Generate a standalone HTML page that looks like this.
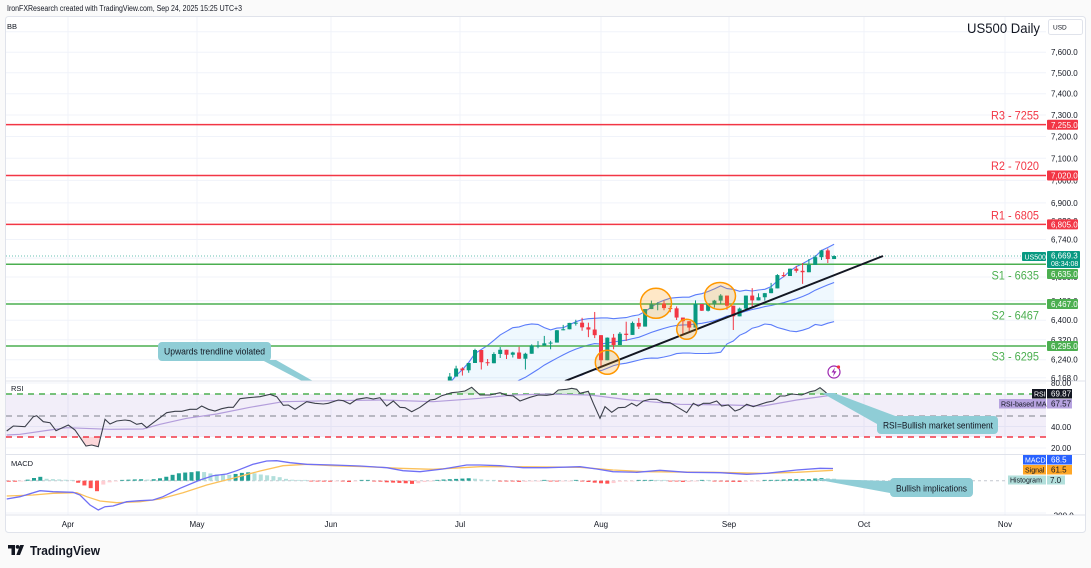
<!DOCTYPE html>
<html><head><meta charset="utf-8">
<style>
html,body{margin:0;padding:0;background:#fafafa;}
svg{display:block;}
text{font-family:"Liberation Sans",sans-serif;}
</style></head>
<body>
<svg id="s" width="1091" height="568" viewBox="0 0 1091 568" xmlns="http://www.w3.org/2000/svg">
<defs>
 <clipPath id="cm"><rect x="6" y="17" width="1040" height="364"/></clipPath>
 <clipPath id="cma"><rect x="1046" y="17" width="40" height="364"/></clipPath>
 <clipPath id="cr"><rect x="6" y="381" width="1040" height="73"/></clipPath>
 <clipPath id="cob"><rect x="6" y="381" width="1040" height="13"/></clipPath>
 <clipPath id="cos"><rect x="6" y="437" width="1040" height="17"/></clipPath>
 <clipPath id="cd"><rect x="6" y="455" width="1040" height="60"/></clipPath>
 <clipPath id="cda"><rect x="1046" y="455" width="40" height="60"/></clipPath>
</defs>

<rect x="0" y="0" width="1091" height="568" fill="#fafafa"/>
<text x="7" y="11" font-size="8" fill="#131722" textLength="235" lengthAdjust="spacingAndGlyphs">IronFXResearch created with TradingView.com, Sep 24, 2025 15:25 UTC+3</text>

<rect x="5.5" y="16.5" width="1080" height="516" rx="3" fill="#ffffff" stroke="#e0e3eb"/>

<!-- vertical grid -->
<g stroke="#f0f3fa" stroke-width="1">
 <line x1="68" y1="17" x2="68" y2="515"/><line x1="197" y1="17" x2="197" y2="515"/>
 <line x1="331" y1="17" x2="331" y2="515"/><line x1="460" y1="17" x2="460" y2="515"/>
 <line x1="601" y1="17" x2="601" y2="515"/><line x1="729" y1="17" x2="729" y2="515"/>
 <line x1="864" y1="17" x2="864" y2="515"/><line x1="1005" y1="17" x2="1005" y2="515"/>
</g>
<!-- horizontal grid main -->
<g stroke="#f0f3fa" stroke-width="1">
 <line x1="6" x2="1046" y1="31.8" y2="31.8"/><line x1="6" x2="1046" y1="52.2" y2="52.2"/>
 <line x1="6" x2="1046" y1="72.8" y2="72.8"/><line x1="6" x2="1046" y1="93.7" y2="93.7"/>
 <line x1="6" x2="1046" y1="115" y2="115"/><line x1="6" x2="1046" y1="136.5" y2="136.5"/>
 <line x1="6" x2="1046" y1="158.3" y2="158.3"/><line x1="6" x2="1046" y1="180.4" y2="180.4"/>
 <line x1="6" x2="1046" y1="202.9" y2="202.9"/><line x1="6" x2="1046" y1="221.1" y2="221.1"/>
 <line x1="6" x2="1046" y1="239.5" y2="239.5"/><line x1="6" x2="1046" y1="258.1" y2="258.1"/>
 <line x1="6" x2="1046" y1="277" y2="277"/><line x1="6" x2="1046" y1="300.8" y2="300.8"/>
 <line x1="6" x2="1046" y1="320.2" y2="320.2"/><line x1="6" x2="1046" y1="339.8" y2="339.8"/>
 <line x1="6" x2="1046" y1="359.7" y2="359.7"/><line x1="6" x2="1046" y1="377.8" y2="377.8"/>
 <line x1="6" x2="1046" y1="383" y2="383"/><line x1="6" x2="1046" y1="426.5" y2="426.5"/>
 <line x1="6" x2="1046" y1="448" y2="448"/><line x1="6" x2="1046" y1="513" y2="513"/>
</g>

<text x="7" y="29" font-size="7.5" fill="#131722">BB</text>

<!-- MAIN PANE -->
<g clip-path="url(#cm)">
 <g id="bb"></g>
 <line x1="6" x2="1046" y1="124.6" y2="124.6" stroke="#f23645" stroke-width="1.5"/>
 <line x1="6" x2="1046" y1="175.5" y2="175.5" stroke="#f23645" stroke-width="1.5"/>
 <line x1="6" x2="1046" y1="224.4" y2="224.4" stroke="#f23645" stroke-width="1.5"/>
 <line x1="6" x2="1046" y1="264.3" y2="264.3" stroke="#4caf50" stroke-width="1.5"/>
 <line x1="6" x2="1046" y1="304" y2="304" stroke="#4caf50" stroke-width="1.5"/>
 <line x1="6" x2="1046" y1="346" y2="346" stroke="#4caf50" stroke-width="1.5"/>
 <line x1="6" x2="1022" y1="256" y2="256" stroke="#089981" stroke-width="1" stroke-dasharray="1,2" opacity="0.6"/>
 <g id="candles"></g>
 <line x1="565" y1="381" x2="883" y2="256" stroke="#131722" stroke-width="2"/>
 <g stroke="#ff9800" stroke-width="1.5" fill="rgba(255,152,0,0.22)">
  <ellipse cx="607.3" cy="362.3" rx="12" ry="12"/>
  <ellipse cx="656" cy="303.3" rx="15.5" ry="15"/>
  <ellipse cx="686.7" cy="329.3" rx="10" ry="10"/>
  <ellipse cx="720" cy="296" rx="15.5" ry="13.5"/>
 </g>
 <circle cx="834" cy="372" r="6" fill="#fff" stroke="#9c27b0" stroke-width="1.2"/>
 <polygon points="835,367.5 831.5,372.5 834,372.5 833,376.5 836.5,371.3 834,371.3" fill="#9c27b0"/>
 <circle cx="838.5" cy="367" r="1.6" fill="#f23645"/>
 <!-- callout 1 -->
 <polygon points="262,360 276,360 313,381 302,381" fill="#8fcdd6"/>
 <rect x="158" y="342" width="113" height="19" rx="4" fill="#8fcdd6"/>
 <text x="164" y="354.5" font-size="9" fill="#131722" textLength="101" lengthAdjust="spacingAndGlyphs">Upwards trendline violated</text>
</g>

<!-- level texts -->
<g font-size="12" fill="#f23645">
 <text x="991" y="119.3" textLength="48" lengthAdjust="spacingAndGlyphs">R3 - 7255</text>
 <text x="991" y="170" textLength="48" lengthAdjust="spacingAndGlyphs">R2 - 7020</text>
 <text x="991" y="219.3" textLength="48" lengthAdjust="spacingAndGlyphs">R1 - 6805</text>
</g>
<g font-size="12" fill="#4caf50">
 <text x="991.5" y="279.3" textLength="47.5" lengthAdjust="spacingAndGlyphs">S1 - 6635</text>
 <text x="991.5" y="319.3" textLength="47.5" lengthAdjust="spacingAndGlyphs">S2 - 6467</text>
 <text x="991.5" y="360.7" textLength="47.5" lengthAdjust="spacingAndGlyphs">S3 - 6295</text>
</g>

<text x="967" y="33" font-size="14" fill="#131722" textLength="73" lengthAdjust="spacingAndGlyphs">US500 Daily</text>
<rect x="1048.5" y="19.5" width="34" height="15" rx="2" fill="#fff" stroke="#e0e3eb"/>
<text x="1053" y="29.5" font-size="6.5" fill="#131722">USD</text>

<!-- price axis labels -->
<g clip-path="url(#cma)" font-size="8" fill="#131722">
 <text x="1051" y="55">7,600.0</text><text x="1051" y="75.8">7,500.0</text>
 <text x="1051" y="96.7">7,400.0</text><text x="1051" y="118">7,300.0</text>
 <text x="1051" y="139.5">7,200.0</text><text x="1051" y="161.3">7,100.0</text>
 <text x="1051" y="183.4">7,000.0</text><text x="1051" y="205.9">6,900.0</text>
 <text x="1051" y="224.1">6,820.0</text><text x="1051" y="242.5">6,740.0</text>
 <text x="1051" y="261.1">6,660.0</text><text x="1051" y="280">6,580.0</text>
 <text x="1051" y="303.8">6,480.0</text><text x="1051" y="323.2">6,400.0</text>
 <text x="1051" y="342.8">6,320.0</text><text x="1051" y="362.7">6,240.0</text>
 <text x="1051" y="380.8">6,168.0</text>
</g>
<!-- level boxes -->
<g font-size="8" fill="#fff">
 <rect x="1047" y="119.8" width="31" height="10" rx="1" fill="#f23645"/><text x="1051" y="127.8">7,255.0</text>
 <rect x="1047" y="170.5" width="31" height="10" rx="1" fill="#f23645"/><text x="1051" y="178.5">7,020.0</text>
 <rect x="1047" y="219.4" width="31" height="10" rx="1" fill="#f23645"/><text x="1051" y="227.4">6,805.0</text>
 <rect x="1022" y="252" width="24" height="9" rx="1" fill="#089981"/><text x="1024.5" y="259.3" font-size="7">US500</text>
 <rect x="1047" y="251" width="33" height="17" rx="1" fill="#089981"/>
 <text x="1051" y="258.5">6,669.3</text><text x="1051" y="266" font-size="7">08:34:08</text>
 <rect x="1047" y="269" width="31" height="10" rx="1" fill="#4caf50"/><text x="1051" y="277">6,635.0</text>
 <rect x="1047" y="299" width="31" height="10" rx="1" fill="#4caf50"/><text x="1051" y="307">6,467.0</text>
 <rect x="1047" y="341" width="31" height="10" rx="1" fill="#4caf50"/><text x="1051" y="349">6,295.0</text>
</g>

<!-- pane separators -->
<line x1="6" x2="1085" y1="381" y2="381" stroke="#e0e3eb"/>
<line x1="6" x2="1085" y1="454.5" y2="454.5" stroke="#e0e3eb"/>
<line x1="6" x2="1085" y1="515" y2="515" stroke="#e0e3eb"/>

<!-- RSI PANE -->
<g clip-path="url(#cr)">
 <rect x="6" y="394" width="1040" height="43" fill="#7e57c2" opacity="0.1"/>
 <line x1="6" x2="1046" y1="394" y2="394" stroke="#4caf50" stroke-width="1.5" stroke-dasharray="6,5"/>
 <line x1="6" x2="1046" y1="416" y2="416" stroke="#9598a1" stroke-width="1.3" stroke-dasharray="6,5"/>
 <line x1="6" x2="1046" y1="437" y2="437" stroke="#f23645" stroke-width="1.5" stroke-dasharray="6,5"/>
 <g clip-path="url(#cob)"><polygon id="rsiob" fill="#4caf50" opacity="0.2" points=""/></g>
 <g clip-path="url(#cos)"><polygon id="rsios" fill="#f23645" opacity="0.2" points=""/></g>
 <polyline fill="none" stroke="#b39ddb" stroke-width="1.2" points="6.7,435 20,434.3 50,430 66.7,427.7 83,428.3 110,429.3 143,429 160,424.3 186.7,418.3 216.7,414 250,407.3 283,401.7 333,400.7 383,400 433,401.7 466.7,399.3 480,398.3 513,395 546.7,394 590,395 630,400 680,404.3 730,405 763,406 796.7,400 833,395"/>
 <polyline id="rsi" fill="none" stroke="#3b3f4a" stroke-width="1.1" points="6.7,431 13.3,426 25,426.7 33.3,416.7 36.7,415.7 43.3,421.7 50,422.7 56,430.7 68.3,425 75,430 86,446 91.7,445 98.3,446.7 105,419.3 110,424 116.7,421 125,420 130,420.7 136.7,424.3 141.7,423.3 146.7,427.7 153.3,422.7 166.7,412.7 175,411.3 181.7,411.3 190,409.3 196.7,409.3 201.7,406 208.3,409.3 215,411 221.7,408.7 228.3,407.3 233.3,407.3 240,398.7 248.3,397.7 260,396.7 270,394.3 276.7,396.7 283.3,405.3 288.3,405 295,409.3 306.7,401.7 315,403.3 323.3,404 328.3,403.3 338.3,400 343.3,400.7 350,404 356.7,399.3 366.7,397.7 373.3,399 380,397.7 386.7,406 393.3,401 400,407.3 405,407.7 411.7,411.7 420,407.3 430,400 435,399.3 441.7,395.7 451.7,392.7 458.3,392 465,391 471.7,387.3 480,395 490,395 500,392.7 506.7,395.3 513.3,396 520,401 530,397.3 538.3,395 546.7,395.3 553.3,394.3 558.3,390 566.7,389.3 571.7,388.3 576.7,389.3 580,393.3 588.3,391.3 593.3,403.3 600,418.3 605,406.7 611.7,412.3 618.3,407.7 625,407.3 631.7,403.3 636.7,406 643.3,401 650,399.3 656.7,399.3 663.3,402.3 670,402.7 676.7,406.7 686.7,412.7 693.3,403.3 698.3,406 703.3,403.3 710,403.3 716.7,401 721.7,406 728.3,405 735,411 740,409.3 746.7,404.3 753.3,406.7 758.3,405 766.7,402.3 773.3,401 780,396 785,396 791.7,394 801.7,395 810,391.7 815,390.7 820,387.7 825,391.7 828.3,395 833.3,395"/>
 <polygon points="822,393 834,393 898,417 877,424" fill="#8fcdd6"/>
 <rect x="877" y="416" width="121" height="18" rx="4" fill="#8fcdd6"/>
 <text x="883" y="428.5" font-size="9" fill="#131722" textLength="110" lengthAdjust="spacingAndGlyphs">RSI=Bullish market sentiment</text>
</g>
<text x="11" y="391" font-size="7.5" fill="#131722">RSI</text>
<g font-size="8" fill="#131722">
 <text x="1051" y="386">80.00</text><text x="1051" y="430">40.00</text><text x="1051" y="451">20.00</text>
</g>
<g font-size="8">
 <rect x="1032" y="389" width="14" height="9.5" fill="#131722"/><text x="1034" y="396.5" fill="#fff" font-size="7">RSI</text>
 <rect x="1047" y="389" width="25" height="9.5" fill="#131722"/><text x="1051" y="396.7" fill="#fff">69.87</text>
 <rect x="999" y="399" width="47" height="9.5" fill="#b7a3e0"/><text x="1001" y="406.5" fill="#131722" font-size="7">RSI-based MA</text>
 <rect x="1047" y="399" width="25" height="9.5" fill="#b7a3e0"/><text x="1051" y="406.7" fill="#131722">67.57</text>
</g>

<!-- MACD PANE -->
<g clip-path="url(#cd)">
 <line x1="6" x2="1046" y1="480.7" y2="480.7" stroke="#c4c7cf" stroke-width="1" stroke-dasharray="3,3"/>
 <g id="hist"></g>
 <polyline fill="none" stroke="#fbc15a" stroke-width="1.3" points="6.7,496 33,495 53,493.3 76.7,492.7 86.7,496.7 100,501 116.7,502.7 140,501.7 160,499 183,492.7 206.7,485 233,478.3 260,471 283,465.7 306.7,464.3 333,465.7 366.7,466.7 400,468.3 433,469.3 480,466.7 513,466.7 580,467.3 613,470 646.7,471.7 713,472.3 763,473.3 796.7,472.3 833,470.3"/>
 <polyline fill="none" stroke="#6f6ff5" stroke-width="1.3" points="6.7,499 20,496.7 40,490.7 53,491.7 73,492.3 80,495 90,505 98.3,510 105,506.7 113,506 126.7,501.7 140,500.7 153,500 163,496.7 180,488.3 200,480 213,475.7 226.7,474 236.7,470.7 253,464.3 266.7,461 276.7,460.7 290,462.7 306.7,464.3 333,465 360,466 386.7,467.7 403,470.7 420,471.7 443,469 466.7,465 480,465 500,465.7 523,467.7 546.7,467.7 580,466.7 596.7,469 613,471.7 636.7,472.3 660,470.3 686.7,472.3 720,472.7 746.7,474.3 766.7,473.3 796.7,470 820,468.3 833,468.5"/>
 <polygon points="814,479 824,479 890,481 890,493" fill="#8fcdd6"/>
 <rect x="890" y="478" width="83" height="19" rx="4" fill="#8fcdd6"/>
 <text x="896" y="491.5" font-size="9" fill="#131722" textLength="71" lengthAdjust="spacingAndGlyphs">Bullish implications</text>
</g>
<text x="11" y="466" font-size="7.5" fill="#131722">MACD</text>
<g clip-path="url(#cda)"><text x="1051" y="518.5" font-size="8" fill="#131722">-200.0</text></g>
<g font-size="8">
 <rect x="1023" y="455" width="23" height="9.5" fill="#2962ff"/><text x="1025" y="462.5" fill="#fff" font-size="7">MACD</text>
 <rect x="1047" y="455" width="25" height="9.5" fill="#2962ff"/><text x="1051" y="462.7" fill="#fff">68.5</text>
 <rect x="1023" y="465" width="23" height="9.5" fill="#ffa726"/><text x="1025" y="472.5" fill="#131722" font-size="7">Signal</text>
 <rect x="1047" y="465" width="25" height="9.5" fill="#ffa726"/><text x="1051" y="472.7" fill="#131722">61.5</text>
 <rect x="1008" y="475.5" width="38" height="9" fill="#b2dfdb"/><text x="1010" y="482.7" fill="#131722" font-size="7">Histogram</text>
 <rect x="1047" y="475.5" width="18" height="9" fill="#b2dfdb"/><text x="1050" y="482.9" fill="#131722">7.0</text>
</g>

<!-- time axis -->
<g font-size="8" fill="#131722" text-anchor="middle">
 <text x="68" y="527">Apr</text><text x="197" y="527">May</text><text x="331" y="527">Jun</text>
 <text x="460" y="527">Jul</text><text x="601" y="527">Aug</text><text x="729" y="527">Sep</text>
 <text x="864" y="527">Oct</text><text x="1005" y="527">Nov</text>
</g>

<!-- logo -->
<g fill="#131722">
 <rect x="8" y="545" width="7" height="3.5"/>
 <rect x="11.5" y="545" width="3.5" height="10"/>
 <circle cx="17.6" cy="546.9" r="1.9"/>
 <polygon points="20.2,545 24,545 20,555 16.3,555"/>
 <text x="30" y="555" font-size="13" font-weight="bold" textLength="70" lengthAdjust="spacingAndGlyphs">TradingView</text>
</g>
</svg>

<script>
(function(){
var NS='http://www.w3.org/2000/svg';
function el(t,a,p){var e=document.createElementNS(NS,t);for(var k in a)e.setAttribute(k,a[k]);p.appendChild(e);return e;}
var P0=8.77446,Y0=304,K=1560;
function py(p){return Y0-K*(Math.log(p)-P0);}
function bx(i){return 601+i*6.3;}
var rows=[[5900,5925,5880,5922],[5925,5930,5885,5889],[5915,5925,5875,5912],[5905,5920,5870,5912],
[5900,5940,5880,5936],[5940,5975,5930,5970],[5975,5990,5965,5971],[5985,6010,5925,5939],[5975,6010,5970,6000],
[6005,6020,5995,6006],[6010,6045,6000,6039],[6050,6060,6010,6022],[6010,6045,6005,6045],[5990,6020,5960,5977],
[6000,6045,5995,6033],[6025,6030,5975,5983],[5985,6020,5975,5981],[5999,6018,5952,5967],
[5969,6025,5944,6025],[6061,6101,6058,6092],[6105,6109,6081,6092],[6100,6146,6093,6141],[6151,6187,6132,6173],
[6193,6216,6187,6205],
[6188,6210,6177,6198],[6193,6227,6188,6227],[6246,6284,6242,6279],
[6260,6262,6201,6230],[6233,6243,6216,6226],[6237,6270,6230,6263],[6264,6291,6247,6280],[6256,6269,6243,6260],
[6256,6272,6249,6269],[6288,6292,6243,6244],[6252,6268,6201,6264],[6269,6302,6264,6297],[6305,6315,6286,6297],
[6304,6336,6303,6306],[6307,6316,6282,6309],[6326,6360,6318,6359],[6369,6381,6360,6363],[6370,6389,6364,6389],
[6397,6402,6378,6390],[6402,6410,6357,6371],[6376,6390,6331,6362],[6428,6434,6327,6339],
[6288,6288,6213,6238],
[6272,6330,6272,6329],[6336,6344,6282,6299],[6311,6352,6307,6345],[6386,6394,6316,6340],[6352,6395,6349,6389],
[6394,6409,6364,6374],[6395,6446,6385,6446],[6461,6481,6454,6466],[6451,6474,6441,6469],[6478,6481,6441,6450],
[6446,6459,6433,6449],[6445,6457,6401,6411],[6408,6410,6343,6396],[6383,6394,6352,6370],[6393,6482,6378,6467],
[6458,6467,6438,6439],[6438,6466,6436,6466],[6454,6484,6452,6481],[6486,6508,6467,6502],[6494,6494,6443,6460],
[6401,6417,6360,6416],[6441,6452,6416,6448],[6456,6502,6446,6502],[6530,6533,6454,6482],
[6496,6511,6485,6495],[6497,6513,6481,6512],[6538,6555,6523,6532],[6546,6592,6541,6588],[6590,6600,6579,6584],
[6597,6616,6594,6615],[6622,6627,6598,6606],[6614,6639,6551,6600],[6628,6656,6615,6631],[6661,6672,6637,6664],
[6654,6695,6652,6693],[6700,6701,6639,6656],[6665,6672,6660,6669]];
var start=-46,i,j;
for(i=1;i<rows.length;i++){var r=rows[i];r[0]=rows[i-1][3];r[1]=Math.max(r[1],r[0],r[3]);r[2]=Math.min(r[2],r[0],r[3]);}
// Bollinger
var up=[],mid=[],lo=[];
for(i=19;i<rows.length;i++){var s=0;for(j=i-19;j<=i;j++)s+=rows[j][3];var m=s/20,v=0;for(j=i-19;j<=i;j++)v+=Math.pow(rows[j][3]-m,2);var sd=Math.sqrt(v/20);var x=bx(start+i);
up.push(x.toFixed(1)+','+py(m+2*sd).toFixed(1));mid.push(x.toFixed(1)+','+py(m).toFixed(1));lo.push(x.toFixed(1)+','+py(m-2*sd).toFixed(1));}
var gB=document.getElementById('bb');
el('polygon',{points:up.concat(lo.slice().reverse()).join(' '),fill:'#2196f3',opacity:'0.07'},gB);
[up,mid,lo].forEach(function(a){el('polyline',{points:a.join(' '),fill:'none',stroke:'#5b7cfa','stroke-width':'1.1'},gB);});
// candles
var gC=document.getElementById('candles');
rows.forEach(function(r,k){var x=bx(start+k);var o=r[0],h=r[1],l=r[2],c=r[3];var col=c>=o?'#089981':'#f23645';
el('line',{x1:x,x2:x,y1:py(h),y2:py(l),stroke:col,'stroke-width':1},gC);
var yt=py(Math.max(o,c)),yb=py(Math.min(o,c));el('rect',{x:x-2,y:yt,width:4,height:Math.max(1,yb-yt),fill:col},gC);});
// histogram
var hk=[[7,-1],[20,-1],[25,0.5],[30,1.5],[35,3],[40,4],[45,2],[55,1.5],[65,1],[72,0.5],[78,-2],[85,-5],[92,-8],[98,-11],[103,-4],[108,-2],[113,-1],[120,0.3],[128,1],[140,1.5],[150,1],[158,2],[163,3],[170,5],[176,7],[183,8],[190,8.5],[195,8.6],[200,10],[206,8],[212,7],[218,6.2],[224,6],[230,5.8],[237,7],[243,8],[250,8.5],[256,7],[262,6],[270,5],[278,4],[285,2],[292,1],[300,0.5],[315,-0.8],[330,-1],[340,0.3],[350,-1.5],[360,0.3],[370,0.3],[385,-1.5],[395,-2],[405,-2.5],[415,-3.5],[420,-2],[430,-0.5],[440,1],[450,1.5],[460,2],[470,2.5],[480,1.5],[490,0.5],[500,-0.5],[515,-0.8],[523,-1.5],[530,-0.5],[545,0.3],[555,-0.8],[565,-0.5],[575,0.3],[590,-1.5],[600,-2.5],[607,-3],[613,-2.5],[620,-1],[630,-0.5],[640,0.5],[655,0.5],[665,0.3],[680,-1],[687,-1.5],[695,-0.3],[705,0.3],[720,-0.8],[735,-1.2],[745,-1.2],[755,-0.3],[765,0.3],[780,1],[790,1.5],[800,1.5],[810,1.6],[818,2.5],[825,2.6],[833,2]];
function hv(x){if(x<=hk[0][0])return hk[0][1];for(var k=1;k<hk.length;k++){if(x<=hk[k][0]){var a=hk[k-1],b=hk[k];return a[1]+(b[1]-a[1])*(x-a[0])/(b[0]-a[0]);}}return hk[hk.length-1][1];}
var gH=document.getElementById('hist'),prev=null,y0=480.7;
for(i=-94;i<=37;i++){var xx=bx(i),val=hv(xx),col;
if(val>=0)col=(prev!==null&&val<prev)?'#b2dfdb':'#22a093';else col=(prev!==null&&val>prev)?'#ffcdd2':'#ff5252';prev=val;
el('rect',{x:xx-2,y:val>=0?y0-Math.max(0.8,val):y0,width:4,height:Math.max(0.8,Math.abs(val)),fill:col},gH);}
// RSI fills
var pts=document.getElementById('rsi').getAttribute('points').trim();
document.getElementById('rsiob').setAttribute('points','6.7,394 '+pts+' 833.3,394');
document.getElementById('rsios').setAttribute('points','6.7,437 '+pts+' 833.3,437');
})();
</script>
</body></html>
